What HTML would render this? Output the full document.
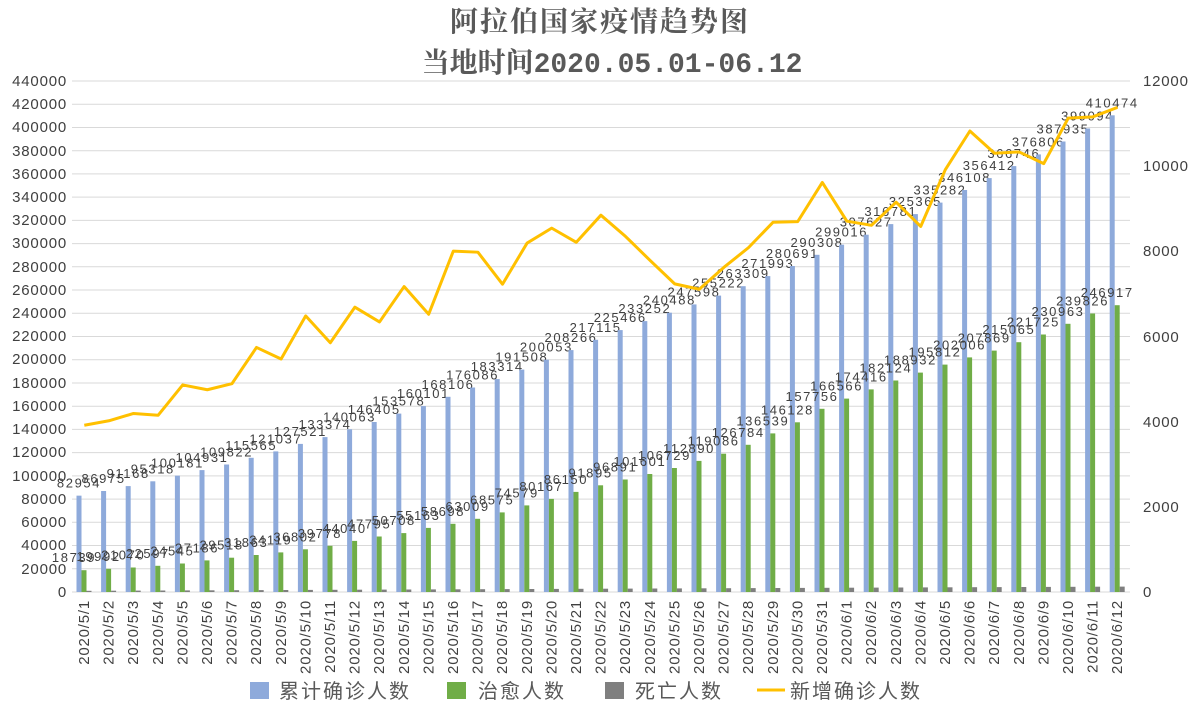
<!DOCTYPE html>
<html><head><meta charset="utf-8"><style>
html,body{margin:0;padding:0;background:#fff;}
svg{display:block;}
.ax{font-family:"Liberation Sans","Noto Sans CJK SC",sans-serif;font-size:15px;fill:#404040;letter-spacing:0.8px;}
.lb{font-family:"Liberation Sans",sans-serif;font-size:13px;fill:#404040;letter-spacing:1.6px;text-anchor:middle;}
.dt{font-family:"Liberation Sans",sans-serif;font-size:15px;fill:#404040;letter-spacing:0.8px;text-anchor:end;}
.b{fill:#8eaadb}.g{fill:#70ad47}.k{fill:#7f7f7f}
</style></head><body>
<svg width="1200" height="717" viewBox="0 0 1200 717" xmlns="http://www.w3.org/2000/svg">
<rect width="1200" height="717" fill="#fff"/>
<text x="600" y="31" text-anchor="middle" style="font-family:'Noto Serif CJK SC',serif;font-weight:bold;font-size:28px;fill:#595959;letter-spacing:2px">阿拉伯国家疫情趋势图</text>
<text x="612" y="72" text-anchor="middle" style="font-family:'Liberation Mono','Noto Serif CJK SC',monospace;font-weight:bold;font-size:28px;fill:#595959"><tspan style="font-family:'Noto Serif CJK SC',serif">当地时间</tspan>2020.05.01-06.12</text>
<g stroke="#d9d9d9" stroke-width="1">
<line x1="72" x2="1130" y1="81" y2="81"/><line x1="72" x2="1130" y1="104.2" y2="104.2"/><line x1="72" x2="1130" y1="127.5" y2="127.5"/><line x1="72" x2="1130" y1="150.7" y2="150.7"/><line x1="72" x2="1130" y1="173.9" y2="173.9"/><line x1="72" x2="1130" y1="197.1" y2="197.1"/><line x1="72" x2="1130" y1="220.4" y2="220.4"/><line x1="72" x2="1130" y1="243.6" y2="243.6"/><line x1="72" x2="1130" y1="266.8" y2="266.8"/><line x1="72" x2="1130" y1="290.0" y2="290.0"/><line x1="72" x2="1130" y1="313.3" y2="313.3"/><line x1="72" x2="1130" y1="336.5" y2="336.5"/><line x1="72" x2="1130" y1="359.7" y2="359.7"/><line x1="72" x2="1130" y1="383.0" y2="383.0"/><line x1="72" x2="1130" y1="406.2" y2="406.2"/><line x1="72" x2="1130" y1="429.4" y2="429.4"/><line x1="72" x2="1130" y1="452.6" y2="452.6"/><line x1="72" x2="1130" y1="475.9" y2="475.9"/><line x1="72" x2="1130" y1="499.1" y2="499.1"/><line x1="72" x2="1130" y1="522.3" y2="522.3"/><line x1="72" x2="1130" y1="545.5" y2="545.5"/><line x1="72" x2="1130" y1="568.8" y2="568.8"/><line x1="72" x2="1130" y1="592" y2="592"/>
</g>
<g class="ax" text-anchor="end">
<text x="67" y="86">440000</text><text x="67" y="109">420000</text><text x="67" y="132">400000</text><text x="67" y="156">380000</text><text x="67" y="179">360000</text><text x="67" y="202">340000</text><text x="67" y="225">320000</text><text x="67" y="248">300000</text><text x="67" y="272">280000</text><text x="67" y="295">260000</text><text x="67" y="318">240000</text><text x="67" y="341">220000</text><text x="67" y="364">200000</text><text x="67" y="388">180000</text><text x="67" y="411">160000</text><text x="67" y="434">140000</text><text x="67" y="457">120000</text><text x="67" y="481">100000</text><text x="67" y="504">80000</text><text x="67" y="527">60000</text><text x="67" y="550">40000</text><text x="67" y="574">20000</text><text x="67" y="597">0</text>
</g>
<g class="ax">
<text x="1143" y="86">12000</text><text x="1143" y="171">10000</text><text x="1143" y="256">8000</text><text x="1143" y="342">6000</text><text x="1143" y="427">4000</text><text x="1143" y="512">2000</text><text x="1143" y="597">0</text>
</g>
<g transform="translate(72,592)"><rect class="b" x="4.5" y="-96.35" width="5" height="96.35"/><rect class="g" x="9.5" y="-21.8" width="5" height="21.8"/><rect class="k" x="14.5" y="-1.2" width="5" height="1.2"/><text class="lb" x="7" y="-104.35">82954</text><text class="lb" x="2" y="-29.8">18739</text><text class="dt" transform="translate(17,8) rotate(-90)">2020/5/1</text></g>
<g transform="translate(96.6,592)"><rect class="b" x="4.5" y="-101" width="5" height="101"/><rect class="g" x="9.5" y="-23.2" width="5" height="23.2"/><rect class="k" x="14.5" y="-1.3" width="5" height="1.3"/><text class="lb" x="7" y="-109">86975</text><text class="lb" x="2" y="-31.2">19992</text><text class="dt" transform="translate(17,8) rotate(-90)">2020/5/2</text></g>
<g transform="translate(121.2,592)"><rect class="b" x="4.5" y="-105.9" width="5" height="105.9"/><rect class="g" x="9.5" y="-24.5" width="5" height="24.5"/><rect class="k" x="14.5" y="-1.4" width="5" height="1.4"/><text class="lb" x="7" y="-113.9">91168</text><text class="lb" x="2" y="-32.5">21070</text><text class="dt" transform="translate(17,8) rotate(-90)">2020/5/3</text></g>
<g transform="translate(145.8,592)"><rect class="b" x="4.5" y="-110.7" width="5" height="110.7"/><rect class="g" x="9.5" y="-26.2" width="5" height="26.2"/><rect class="k" x="14.5" y="-1.5" width="5" height="1.5"/><text class="lb" x="7" y="-118.7">95318</text><text class="lb" x="2" y="-34.2">22597</text><text class="dt" transform="translate(17,8) rotate(-90)">2020/5/4</text></g>
<g transform="translate(170.4,592)"><rect class="b" x="4.5" y="-116.35" width="5" height="116.35"/><rect class="g" x="9.5" y="-28.5" width="5" height="28.5"/><rect class="k" x="14.5" y="-1.6" width="5" height="1.6"/><text class="lb" x="7" y="-124.35">100181</text><text class="lb" x="2" y="-36.5">24545</text><text class="dt" transform="translate(17,8) rotate(-90)">2020/5/5</text></g>
<g transform="translate(195,592)"><rect class="b" x="4.5" y="-121.9" width="5" height="121.9"/><rect class="g" x="9.5" y="-31.6" width="5" height="31.6"/><rect class="k" x="14.5" y="-1.7" width="5" height="1.7"/><text class="lb" x="7" y="-129.9">104931</text><text class="lb" x="2" y="-39.6">27186</text><text class="dt" transform="translate(17,8) rotate(-90)">2020/5/6</text></g>
<g transform="translate(219.6,592)"><rect class="b" x="4.5" y="-127.5" width="5" height="127.5"/><rect class="g" x="9.5" y="-34.3" width="5" height="34.3"/><rect class="k" x="14.5" y="-1.8" width="5" height="1.8"/><text class="lb" x="7" y="-135.5">109822</text><text class="lb" x="2" y="-42.3">29518</text><text class="dt" transform="translate(17,8) rotate(-90)">2020/5/7</text></g>
<g transform="translate(244.2,592)"><rect class="b" x="4.5" y="-134.2" width="5" height="134.2"/><rect class="g" x="9.5" y="-37" width="5" height="37"/><rect class="k" x="14.5" y="-1.9" width="5" height="1.9"/><text class="lb" x="7" y="-142.2">115565</text><text class="lb" x="2" y="-45">31863</text><text class="dt" transform="translate(17,8) rotate(-90)">2020/5/8</text></g>
<g transform="translate(268.8,592)"><rect class="b" x="4.5" y="-140.6" width="5" height="140.6"/><rect class="g" x="9.5" y="-39.6" width="5" height="39.6"/><rect class="k" x="14.5" y="-2" width="5" height="2"/><text class="lb" x="7" y="-148.6">121037</text><text class="lb" x="2" y="-47.6">34119</text><text class="dt" transform="translate(17,8) rotate(-90)">2020/5/9</text></g>
<g transform="translate(293.4,592)"><rect class="b" x="4.5" y="-148.1" width="5" height="148.1"/><rect class="g" x="9.5" y="-42.7" width="5" height="42.7"/><rect class="k" x="14.5" y="-2.1" width="5" height="2.1"/><text class="lb" x="7" y="-156.1">127521</text><text class="lb" x="2" y="-50.7">36802</text><text class="dt" transform="translate(17,8) rotate(-90)">2020/5/10</text></g>
<g transform="translate(318,592)"><rect class="b" x="4.5" y="-154.9" width="5" height="154.9"/><rect class="g" x="9.5" y="-46.2" width="5" height="46.2"/><rect class="k" x="14.5" y="-2.2" width="5" height="2.2"/><text class="lb" x="7" y="-162.9">133374</text><text class="lb" x="2" y="-54.2">39778</text><text class="dt" transform="translate(17,8) rotate(-90)">2020/5/11</text></g>
<g transform="translate(342.6,592)"><rect class="b" x="4.5" y="-162.7" width="5" height="162.7"/><rect class="g" x="9.5" y="-51.1" width="5" height="51.1"/><rect class="k" x="14.5" y="-2.3" width="5" height="2.3"/><text class="lb" x="7" y="-170.7">140063</text><text class="lb" x="2" y="-59.1">44040</text><text class="dt" transform="translate(17,8) rotate(-90)">2020/5/12</text></g>
<g transform="translate(367.2,592)"><rect class="b" x="4.5" y="-170" width="5" height="170"/><rect class="g" x="9.5" y="-55.5" width="5" height="55.5"/><rect class="k" x="14.5" y="-2.4" width="5" height="2.4"/><text class="lb" x="7" y="-178">146405</text><text class="lb" x="2" y="-63.5">47795</text><text class="dt" transform="translate(17,8) rotate(-90)">2020/5/13</text></g>
<g transform="translate(391.8,592)"><rect class="b" x="4.5" y="-178.4" width="5" height="178.4"/><rect class="g" x="9.5" y="-58.9" width="5" height="58.9"/><rect class="k" x="14.5" y="-2.5" width="5" height="2.5"/><text class="lb" x="7" y="-186.4">153578</text><text class="lb" x="2" y="-66.9">50708</text><text class="dt" transform="translate(17,8) rotate(-90)">2020/5/14</text></g>
<g transform="translate(416.4,592)"><rect class="b" x="4.5" y="-185.9" width="5" height="185.9"/><rect class="g" x="9.5" y="-64.1" width="5" height="64.1"/><rect class="k" x="14.5" y="-2.6" width="5" height="2.6"/><text class="lb" x="7" y="-193.9">160101</text><text class="lb" x="2" y="-72.1">55163</text><text class="dt" transform="translate(17,8) rotate(-90)">2020/5/15</text></g>
<g transform="translate(441,592)"><rect class="b" x="4.5" y="-195.2" width="5" height="195.2"/><rect class="g" x="9.5" y="-68.2" width="5" height="68.2"/><rect class="k" x="14.5" y="-2.7" width="5" height="2.7"/><text class="lb" x="7" y="-203.2">168106</text><text class="lb" x="2" y="-76.2">58698</text><text class="dt" transform="translate(17,8) rotate(-90)">2020/5/16</text></g>
<g transform="translate(465.6,592)"><rect class="b" x="4.5" y="-204.5" width="5" height="204.5"/><rect class="g" x="9.5" y="-73.2" width="5" height="73.2"/><rect class="k" x="14.5" y="-2.8" width="5" height="2.8"/><text class="lb" x="7" y="-212.5">176086</text><text class="lb" x="2" y="-81.2">63009</text><text class="dt" transform="translate(17,8) rotate(-90)">2020/5/17</text></g>
<g transform="translate(490.2,592)"><rect class="b" x="4.5" y="-212.9" width="5" height="212.9"/><rect class="g" x="9.5" y="-79.6" width="5" height="79.6"/><rect class="k" x="14.5" y="-2.9" width="5" height="2.9"/><text class="lb" x="7" y="-220.9">183314</text><text class="lb" x="2" y="-87.6">68575</text><text class="dt" transform="translate(17,8) rotate(-90)">2020/5/18</text></g>
<g transform="translate(514.8,592)"><rect class="b" x="4.5" y="-222.4" width="5" height="222.4"/><rect class="g" x="9.5" y="-86.6" width="5" height="86.6"/><rect class="k" x="14.5" y="-3" width="5" height="3"/><text class="lb" x="7" y="-230.4">191508</text><text class="lb" x="2" y="-94.6">74579</text><text class="dt" transform="translate(17,8) rotate(-90)">2020/5/19</text></g>
<g transform="translate(539.4,592)"><rect class="b" x="4.5" y="-232.3" width="5" height="232.3"/><rect class="g" x="9.5" y="-93.1" width="5" height="93.1"/><rect class="k" x="14.5" y="-3.1" width="5" height="3.1"/><text class="lb" x="7" y="-240.3">200053</text><text class="lb" x="2" y="-101.1">80167</text><text class="dt" transform="translate(17,8) rotate(-90)">2020/5/20</text></g>
<g transform="translate(564,592)"><rect class="b" x="4.5" y="-241.9" width="5" height="241.9"/><rect class="g" x="9.5" y="-100.1" width="5" height="100.1"/><rect class="k" x="14.5" y="-3.2" width="5" height="3.2"/><text class="lb" x="7" y="-249.9">208266</text><text class="lb" x="2" y="-108.1">86150</text><text class="dt" transform="translate(17,8) rotate(-90)">2020/5/21</text></g>
<g transform="translate(588.6,592)"><rect class="b" x="4.5" y="-252.2" width="5" height="252.2"/><rect class="g" x="9.5" y="-106.7" width="5" height="106.7"/><rect class="k" x="14.5" y="-3.3" width="5" height="3.3"/><text class="lb" x="7" y="-260.2">217115</text><text class="lb" x="2" y="-114.7">91895</text><text class="dt" transform="translate(17,8) rotate(-90)">2020/5/22</text></g>
<g transform="translate(613.2,592)"><rect class="b" x="4.5" y="-261.9" width="5" height="261.9"/><rect class="g" x="9.5" y="-112.5" width="5" height="112.5"/><rect class="k" x="14.5" y="-3.4" width="5" height="3.4"/><text class="lb" x="7" y="-269.9">225466</text><text class="lb" x="2" y="-120.5">96891</text><text class="dt" transform="translate(17,8) rotate(-90)">2020/5/23</text></g>
<g transform="translate(637.8,592)"><rect class="b" x="4.5" y="-270.9" width="5" height="270.9"/><rect class="g" x="9.5" y="-118" width="5" height="118"/><rect class="k" x="14.5" y="-3.5" width="5" height="3.5"/><text class="lb" x="7" y="-278.9">233252</text><text class="lb" x="2" y="-126">101601</text><text class="dt" transform="translate(17,8) rotate(-90)">2020/5/24</text></g>
<g transform="translate(662.4,592)"><rect class="b" x="4.5" y="-279.3" width="5" height="279.3"/><rect class="g" x="9.5" y="-124" width="5" height="124"/><rect class="k" x="14.5" y="-3.6" width="5" height="3.6"/><text class="lb" x="7" y="-287.3">240488</text><text class="lb" x="2" y="-132">106729</text><text class="dt" transform="translate(17,8) rotate(-90)">2020/5/25</text></g>
<g transform="translate(687,592)"><rect class="b" x="4.5" y="-287.6" width="5" height="287.6"/><rect class="g" x="9.5" y="-131.1" width="5" height="131.1"/><rect class="k" x="14.5" y="-3.7" width="5" height="3.7"/><text class="lb" x="7" y="-295.6">247598</text><text class="lb" x="2" y="-139.1">112890</text><text class="dt" transform="translate(17,8) rotate(-90)">2020/5/26</text></g>
<g transform="translate(711.6,592)"><rect class="b" x="4.5" y="-296.4" width="5" height="296.4"/><rect class="g" x="9.5" y="-138.3" width="5" height="138.3"/><rect class="k" x="14.5" y="-3.8" width="5" height="3.8"/><text class="lb" x="7" y="-304.4">255222</text><text class="lb" x="2" y="-146.3">119086</text><text class="dt" transform="translate(17,8) rotate(-90)">2020/5/27</text></g>
<g transform="translate(736.2,592)"><rect class="b" x="4.5" y="-305.8" width="5" height="305.8"/><rect class="g" x="9.5" y="-147.2" width="5" height="147.2"/><rect class="k" x="14.5" y="-3.9" width="5" height="3.9"/><text class="lb" x="7" y="-313.8">263309</text><text class="lb" x="2" y="-155.2">126784</text><text class="dt" transform="translate(17,8) rotate(-90)">2020/5/28</text></g>
<g transform="translate(760.8,592)"><rect class="b" x="4.5" y="-315.9" width="5" height="315.9"/><rect class="g" x="9.5" y="-158.6" width="5" height="158.6"/><rect class="k" x="14.5" y="-4" width="5" height="4"/><text class="lb" x="7" y="-323.9">271993</text><text class="lb" x="2" y="-166.6">136539</text><text class="dt" transform="translate(17,8) rotate(-90)">2020/5/29</text></g>
<g transform="translate(785.4,592)"><rect class="b" x="4.5" y="-326" width="5" height="326"/><rect class="g" x="9.5" y="-169.7" width="5" height="169.7"/><rect class="k" x="14.5" y="-4.1" width="5" height="4.1"/><text class="lb" x="7" y="-334">280691</text><text class="lb" x="2" y="-177.7">146128</text><text class="dt" transform="translate(17,8) rotate(-90)">2020/5/30</text></g>
<g transform="translate(810,592)"><rect class="b" x="4.5" y="-337.2" width="5" height="337.2"/><rect class="g" x="9.5" y="-183.2" width="5" height="183.2"/><rect class="k" x="14.5" y="-4.2" width="5" height="4.2"/><text class="lb" x="7" y="-345.2">290308</text><text class="lb" x="2" y="-191.2">157756</text><text class="dt" transform="translate(17,8) rotate(-90)">2020/5/31</text></g>
<g transform="translate(834.6,592)"><rect class="b" x="4.5" y="-347.3" width="5" height="347.3"/><rect class="g" x="9.5" y="-193.4" width="5" height="193.4"/><rect class="k" x="14.5" y="-4.3" width="5" height="4.3"/><text class="lb" x="7" y="-355.3">299016</text><text class="lb" x="2" y="-201.4">166566</text><text class="dt" transform="translate(17,8) rotate(-90)">2020/6/1</text></g>
<g transform="translate(859.2,592)"><rect class="b" x="4.5" y="-357.3" width="5" height="357.3"/><rect class="g" x="9.5" y="-202.6" width="5" height="202.6"/><rect class="k" x="14.5" y="-4.4" width="5" height="4.4"/><text class="lb" x="7" y="-365.3">307627</text><text class="lb" x="2" y="-210.6">174416</text><text class="dt" transform="translate(17,8) rotate(-90)">2020/6/2</text></g>
<g transform="translate(883.8,592)"><rect class="b" x="4.5" y="-367.9" width="5" height="367.9"/><rect class="g" x="9.5" y="-211.5" width="5" height="211.5"/><rect class="k" x="14.5" y="-4.5" width="5" height="4.5"/><text class="lb" x="7" y="-375.9">316781</text><text class="lb" x="2" y="-219.5">182124</text><text class="dt" transform="translate(17,8) rotate(-90)">2020/6/3</text></g>
<g transform="translate(908.4,592)"><rect class="b" x="4.5" y="-377.9" width="5" height="377.9"/><rect class="g" x="9.5" y="-219.4" width="5" height="219.4"/><rect class="k" x="14.5" y="-4.6" width="5" height="4.6"/><text class="lb" x="7" y="-385.9">325365</text><text class="lb" x="2" y="-227.4">188932</text><text class="dt" transform="translate(17,8) rotate(-90)">2020/6/4</text></g>
<g transform="translate(933,592)"><rect class="b" x="4.5" y="-389.4" width="5" height="389.4"/><rect class="g" x="9.5" y="-227.4" width="5" height="227.4"/><rect class="k" x="14.5" y="-4.7" width="5" height="4.7"/><text class="lb" x="7" y="-397.4">335282</text><text class="lb" x="2" y="-235.4">195812</text><text class="dt" transform="translate(17,8) rotate(-90)">2020/6/5</text></g>
<g transform="translate(957.6,592)"><rect class="b" x="4.5" y="-402" width="5" height="402"/><rect class="g" x="9.5" y="-234.6" width="5" height="234.6"/><rect class="k" x="14.5" y="-4.8" width="5" height="4.8"/><text class="lb" x="7" y="-410">346108</text><text class="lb" x="2" y="-242.6">202006</text><text class="dt" transform="translate(17,8) rotate(-90)">2020/6/6</text></g>
<g transform="translate(982.2,592)"><rect class="b" x="4.5" y="-413.9" width="5" height="413.9"/><rect class="g" x="9.5" y="-241.4" width="5" height="241.4"/><rect class="k" x="14.5" y="-4.9" width="5" height="4.9"/><text class="lb" x="7" y="-421.9">356412</text><text class="lb" x="2" y="-249.4">207869</text><text class="dt" transform="translate(17,8) rotate(-90)">2020/6/7</text></g>
<g transform="translate(1006.8,592)"><rect class="b" x="4.5" y="-425.9" width="5" height="425.9"/><rect class="g" x="9.5" y="-249.8" width="5" height="249.8"/><rect class="k" x="14.5" y="-5" width="5" height="5"/><text class="lb" x="7" y="-433.9">366746</text><text class="lb" x="2" y="-257.8">215065</text><text class="dt" transform="translate(17,8) rotate(-90)">2020/6/8</text></g>
<g transform="translate(1031.4,592)"><rect class="b" x="4.5" y="-437.6" width="5" height="437.6"/><rect class="g" x="9.5" y="-257.5" width="5" height="257.5"/><rect class="k" x="14.5" y="-5.1" width="5" height="5.1"/><text class="lb" x="7" y="-445.6">376806</text><text class="lb" x="2" y="-265.5">221725</text><text class="dt" transform="translate(17,8) rotate(-90)">2020/6/9</text></g>
<g transform="translate(1056,592)"><rect class="b" x="4.5" y="-450.5" width="5" height="450.5"/><rect class="g" x="9.5" y="-268.2" width="5" height="268.2"/><rect class="k" x="14.5" y="-5.2" width="5" height="5.2"/><text class="lb" x="7" y="-458.5">387935</text><text class="lb" x="2" y="-276.2">230963</text><text class="dt" transform="translate(17,8) rotate(-90)">2020/6/10</text></g>
<g transform="translate(1080.6,592)"><rect class="b" x="4.5" y="-463.5" width="5" height="463.5"/><rect class="g" x="9.5" y="-278.5" width="5" height="278.5"/><rect class="k" x="14.5" y="-5.3" width="5" height="5.3"/><text class="lb" x="7" y="-471.5">399094</text><text class="lb" x="2" y="-286.5">239826</text><text class="dt" transform="translate(17,8) rotate(-90)">2020/6/11</text></g>
<g transform="translate(1105.2,592)"><rect class="b" x="4.5" y="-476.7" width="5" height="476.7"/><rect class="g" x="9.5" y="-286.8" width="5" height="286.8"/><rect class="k" x="14.5" y="-5.4" width="5" height="5.4"/><text class="lb" x="7" y="-484.7">410474</text><text class="lb" x="2" y="-294.8">246917</text><text class="dt" transform="translate(17,8) rotate(-90)">2020/6/12</text></g>
<g transform="translate(84.3,592) scale(24.6,-0.042583)">
<polyline fill="none" stroke="#ffc000" stroke-width="3" stroke-linejoin="round" vector-effect="non-scaling-stroke" points="0,3916 1,4021 2,4193 3,4150 4,4863 5,4750 6,4891 7,5743 8,5472 9,6484 10,5853 11,6689 12,6342 13,7173 14,6523 15,8005 16,7980 17,7228 18,8194 19,8545 20,8213 21,8849 22,8351 23,7786 24,7236 25,7110 26,7624 27,8087 28,8684 29,8698 30,9617 31,8708 32,8611 33,9154 34,8584 35,9917 36,10826 37,10304 38,10334 39,10060 40,11129 41,11159 42,11380"/>
</g>
<g style="font-family:'Noto Sans CJK SC',sans-serif;font-size:20px;fill:#595959;letter-spacing:2px">
<rect x="250" y="682" width="19" height="17" fill="#8eaadb"/><text x="279" y="698">累计确诊人数</text>
<rect x="447" y="682" width="19" height="17" fill="#70ad47"/><text x="478" y="698">治愈人数</text>
<rect x="605" y="682" width="19" height="17" fill="#7f7f7f"/><text x="635" y="698">死亡人数</text>
<line x1="757" x2="785" y1="690" y2="690" stroke="#ffc000" stroke-width="3"/><text x="790" y="698">新增确诊人数</text>
</g>
</svg>
</body></html>
